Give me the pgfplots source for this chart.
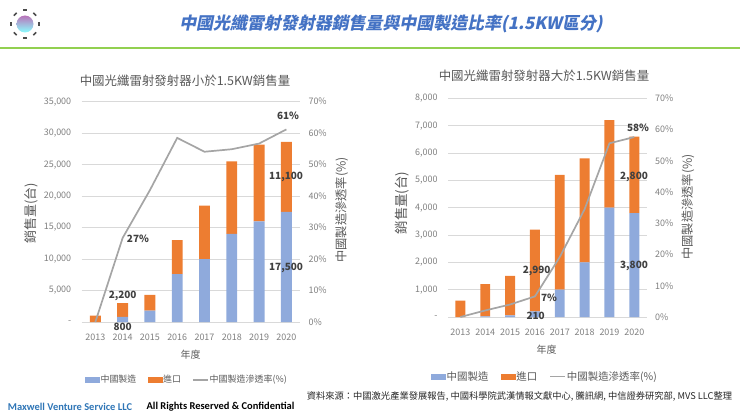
\documentclass[border=0pt]{standalone}
\usepackage{fontspec}
\setmainfont{Noto Sans CJK TC}
\newfontfamily\titlefont[FakeSlant=0.2]{Noto Sans CJK TC}
\newfontfamily\carlito{Carlito}
\usepackage{pgfplots}
\pgfplotsset{compat=1.18}
\definecolor{cblue}{HTML}{8FAADC}
\definecolor{corange}{HTML}{ED7D31}
\definecolor{cgray}{HTML}{A5A5A5}
\definecolor{gridc}{HTML}{D9D9D9}
\definecolor{tickc}{HTML}{7F7F7F}
\definecolor{labc}{HTML}{595959}
\definecolor{datac}{HTML}{404040}
\definecolor{titleblue}{HTML}{4472C4}
\definecolor{footblue}{HTML}{2E75B6}
\definecolor{greenline}{HTML}{92D050}
\tikzset{dlab/.style={font=\fontsize{10}{11}\selectfont\bfseries, text=datac, inner sep=0pt}}
\pgfplotsset{
  barax/.style={anchor=south west, scale only axis, xmin=-0.5, xmax=7.5,
    ybar stacked, bar width=0.4, scaled y ticks=false,
    axis line style={draw=none}, tick style={draw=none},
    ymajorgrids, grid style={draw=gridc, line width=0.6bp},
    xtick={0,...,7}, xticklabels={2013,2014,2015,2016,2017,2018,2019,2020},
    tick label style={font=\fontsize{9}{10}\selectfont, text=tickc},
    yticklabel style={xshift=-7bp},
    xticklabel style={yshift=-8bp},
    clip=false},
  lineax/.style={anchor=south west, scale only axis, xmin=-0.5, xmax=7.5, ymin=0, ymax=70,
    axis x line=none, axis y line*=right, axis line style={draw=none}, tick style={draw=none},
    ytick={0,10,...,70}, yticklabels={0\%,10\%,20\%,30\%,40\%,50\%,60\%,70\%},
    tick label style={font=\fontsize{9}{10}\selectfont, text=tickc},
    yticklabel style={xshift=5bp},
    clip=false},
}
\begin{document}
\begin{tikzpicture}[x=1bp,y=1bp]
\path[use as bounding box] (0,0) rectangle (740,416);
% header
\draw[greenline, line width=2.2bp] (0,368.3) -- (740,368.3);
\shade[top color=violet!55, middle color=yellow!70, bottom color=cyan!45] (25,392) circle (8.5);
\foreach \a in {0,45,...,315}{\fill[black!70, rotate around={\a:(25,392)}] (23,405) rectangle (27,406.6);}
\node[font=\titlefont\bfseries\fontsize{17}{19}\selectfont, text=titleblue] at (391,392.5) {中國光纖雷射發射器銷售量與中國製造比率(1.5KW區分)};
% chart titles and labels
\node[font=\fontsize{12.5}{14}\selectfont, text=labc] at (185,335.3) {中國光纖雷射發射器小於1.5KW銷售量};
\node[font=\fontsize{12.5}{14}\selectfont, text=labc] at (544,340) {中國光纖雷射發射器大於1.5KW銷售量};
\node[font=\fontsize{13}{14}\selectfont, text=labc, rotate=90] at (31.7,203) {銷售量(台)};
\node[font=\fontsize{12.3}{14}\selectfont, text=labc, rotate=90] at (341.7,206) {中國製造滲透率(\%)};
\node[font=\fontsize{13.5}{14}\selectfont, text=labc, rotate=90] at (401.7,213) {銷售量(台)};
\node[font=\fontsize{12.3}{14}\selectfont, text=labc, rotate=90] at (688,209) {中國製造滲透率(\%)};
\node[font=\fontsize{10}{11}\selectfont, text=labc] at (190.7,61) {年度};
\node[font=\fontsize{10}{11}\selectfont, text=labc] at (546.7,66) {年度};
% footer
\node[font=\carlito\bfseries\fontsize{10.5}{12}\selectfont, text=footblue] at (70,9) {Maxwell Venture Service LLC};
\node[font=\carlito\bfseries\fontsize{10.5}{12}\selectfont, text=black] at (220.5,9) {All Rights Reserved \& Confidential};
\node[font=\fontsize{9.3}{11}\selectfont, text=black!85] at (519.5,20) {資料來源：中國激光產業發展報告, 中國科學院武漢情報文獻中心, 騰訊網, 中信證券研究部, MVS LLC整理};

% ---------- left chart ----------
\begin{axis}[barax, at={(81.7bp,94bp)}, width=218.3bp, height=220.3bp,
  ymin=0, ymax=35000, ytick={0,5000,...,35000},
  yticklabels={-,{5,000},{10,000},{15,000},{20,000},{25,000},{30,000},{35,000}}]
\addplot[fill=cblue, draw=none] coordinates {(0,0) (1,800) (2,1800) (3,7600) (4,10000) (5,14000) (6,16000) (7,17500)};
\addplot[fill=corange, draw=none] coordinates {(0,1000) (1,2200) (2,2500) (3,5400) (4,8500) (5,11500) (6,12200) (7,11100)};
\end{axis}
\begin{axis}[lineax, at={(81.7bp,94bp)}, width=218.3bp, height=220.3bp,
  legend style={at={(0.48,-0.263)}, anchor=center, draw=none, fill=none, inner sep=0pt,
    font=\fontsize{9}{10}\selectfont, text=labc, legend columns=3,
    nodes={inner sep=1.2bp},
    /tikz/every even column/.append style={column sep=10bp}}]
\addlegendimage{legend image code/.code={\fill[cblue] (0bp,-2.5bp) rectangle (14bp,2.5bp);}}
\addlegendentry{中國製造}
\addlegendimage{legend image code/.code={\fill[corange] (0bp,-2.5bp) rectangle (14bp,2.5bp);}}
\addlegendentry{進口}
\addplot[cgray, line width=1.7bp, legend image code/.code={\draw[cgray, line width=1.2bp] (0bp,0bp) -- (15bp,0bp);}] coordinates {(0,0) (1,26.7) (2,41.9) (3,58.5) (4,54.1) (5,54.9) (6,56.7) (7,61.2)};
\addlegendentry{中國製造滲透率(\%)}
\node[dlab] at (axis cs:1,8.26) {2,200};
\node[dlab] at (axis cs:1,-1.5) {800};
\node[dlab] at (axis cs:1.56,26.38) {27\%};
\node[dlab] at (axis cs:7.06,65.55) {61\%};
\node[dlab] at (axis cs:6.99,46.07) {11,100};
\node[dlab] at (axis cs:6.99,17.16) {17,500};
\end{axis}

% ---------- right chart ----------
\begin{axis}[barax, at={(448bp,99bp)}, width=198.7bp, height=218.7bp,
  ymin=0, ymax=8000, ytick={0,1000,...,8000},
  yticklabels={-,{1,000},{2,000},{3,000},{4,000},{5,000},{6,000},{7,000},{8,000}}]
\addplot[fill=cblue, draw=none] coordinates {(0,0) (1,25) (2,60) (3,210) (4,1000) (5,2000) (6,4000) (7,3800)};
\addplot[fill=corange, draw=none] coordinates {(0,600) (1,1175) (2,1440) (3,2990) (4,4200) (5,3800) (6,3200) (7,2800)};
\end{axis}
\begin{axis}[lineax, at={(448bp,99bp)}, width=198.7bp, height=218.7bp,
  legend style={at={(0.486,-0.273)}, anchor=center, draw=none, fill=none, inner sep=0pt,
    font=\fontsize{10.5}{11}\selectfont, text=labc, legend columns=3,
    nodes={inner sep=1.2bp},
    /tikz/every even column/.append style={column sep=11bp}}]
\addlegendimage{legend image code/.code={\fill[cblue] (0bp,-2.5bp) rectangle (14bp,2.5bp);}}
\addlegendentry{中國製造}
\addlegendimage{legend image code/.code={\fill[corange] (0bp,-2.5bp) rectangle (14bp,2.5bp);}}
\addlegendentry{進口}
\addplot[cgray, line width=1.7bp, legend image code/.code={\draw[cgray, line width=1.2bp] (0bp,0bp) -- (15bp,0bp);}] coordinates {(0,0) (1,2.1) (2,4) (3,6.6) (4,19.2) (5,34.5) (6,55.6) (7,57.6)};
\addlegendentry{中國製造滲透率(\%)}
\node[dlab] at (axis cs:7.15,60.5) {58\%};
\node[dlab] at (axis cs:6.99,44.9) {2,800};
\node[dlab] at (axis cs:6.99,16.33) {3,800};
\node[dlab] at (axis cs:3.07,14.73) {2,990};
\node[dlab] at (axis cs:3.57,6.18) {7\%};
\node[dlab] at (axis cs:3.03,0.32) {210};
\end{axis}
\end{tikzpicture}
\end{document}
